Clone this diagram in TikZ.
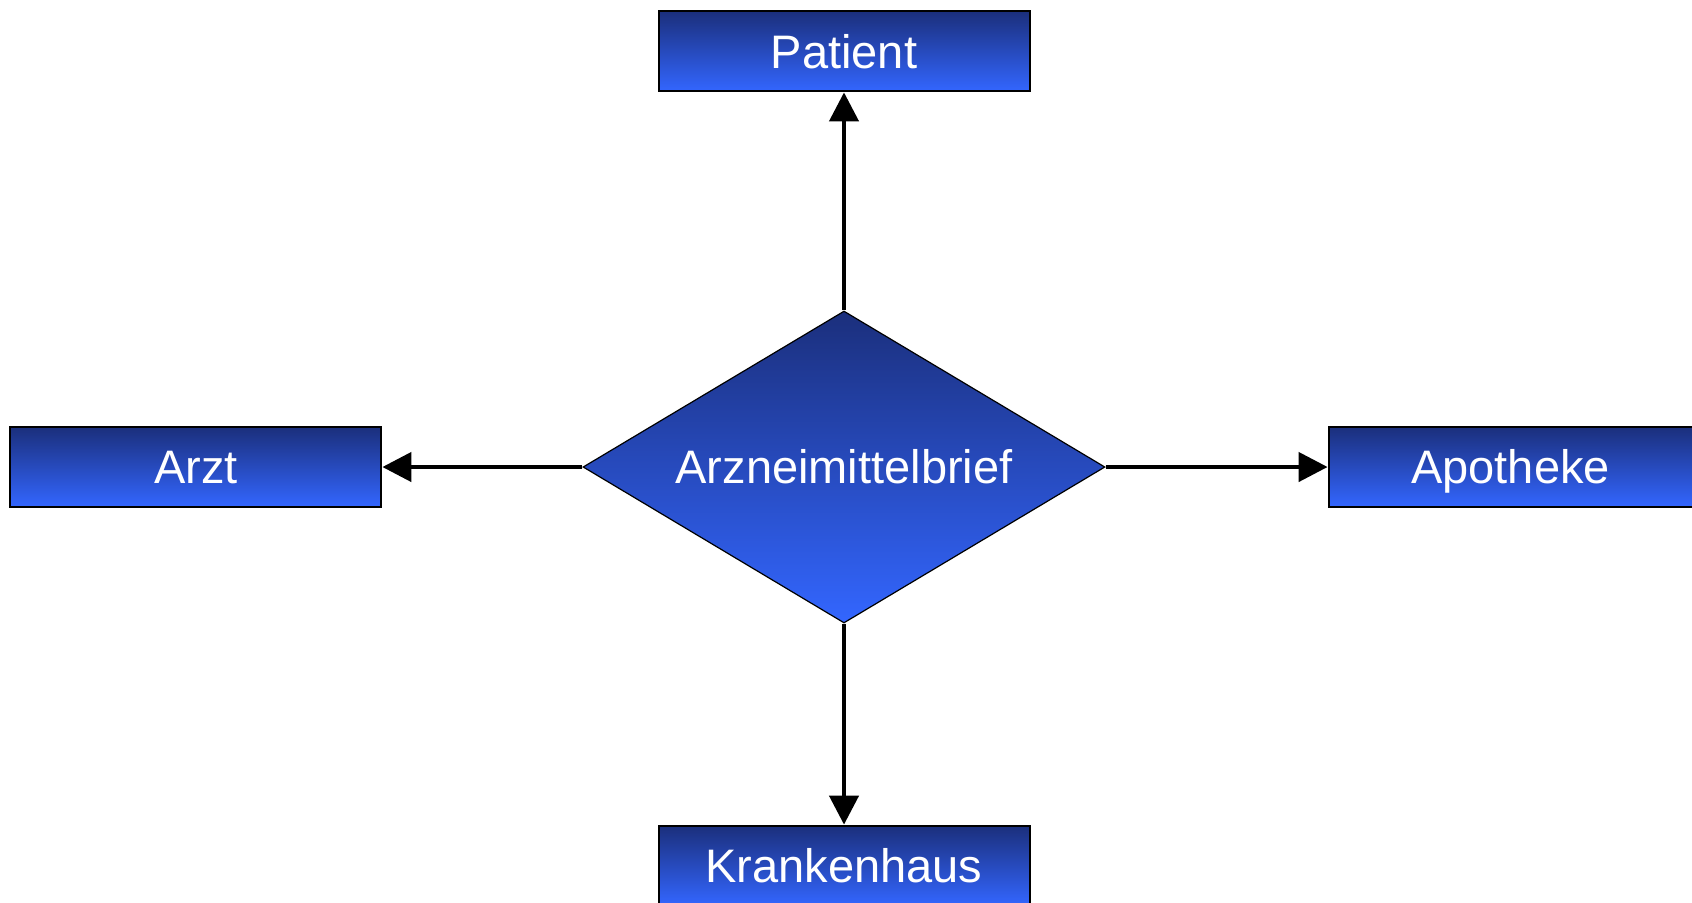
\documentclass[tikz,border=0pt]{standalone}
\usepackage{fontspec}
\setmainfont{Liberation Sans}
\usetikzlibrary{arrows.meta,shapes.geometric,positioning}
\definecolor{darkblue}{HTML}{1B2F7C}
\definecolor{lightblue}{HTML}{3366FF}

\begin{document}
\begin{tikzpicture}[x=0.5pt, y=-0.5pt, node distance = 1cm,
                    auto,
                    main/.style = {draw=black, line width=1pt, top color=darkblue, bottom color=lightblue,
                                   text=white, font=\fontsize{23.5}{28}\selectfont,
                                   text height=20.8pt, text depth=4pt,
                                   minimum width=185.5pt, minimum height=40pt, inner sep=0pt},
                    brief/.style = {diamond, draw=black, line width=0.6pt, top color=darkblue, bottom color=lightblue,
                                    text=white, font=\fontsize{23.5}{28}\selectfont, aspect=1.67,
                                    minimum width=261pt, minimum height=156pt, inner sep=0pt}]
\useasboundingbox (0,0) rectangle (1692,902);
\clip (0,0) rectangle (1692,902);
\begin{scope}
    \node[brief] (brief) at (844,467) {Arzneimittelbrief};
\node[main, above=109pt of brief] (patient) {Patient};
\node[main, left=100pt of brief] (arzt) {Arzt};
\node[main, right=111pt of brief, minimum width=182pt] (apotheke) {Apotheke};
\node[main, below=100.5pt of brief] (krankenhaus) {Krankenhaus};
    \path[-{Triangle[length=14.5pt,width=14.5pt]}, line width=2.2pt, draw=black]
(brief) edge (patient)
(brief) edge (arzt)
(brief) edge (apotheke)
(brief) edge (krankenhaus);\end{scope}  \end{tikzpicture}
\end{document}
